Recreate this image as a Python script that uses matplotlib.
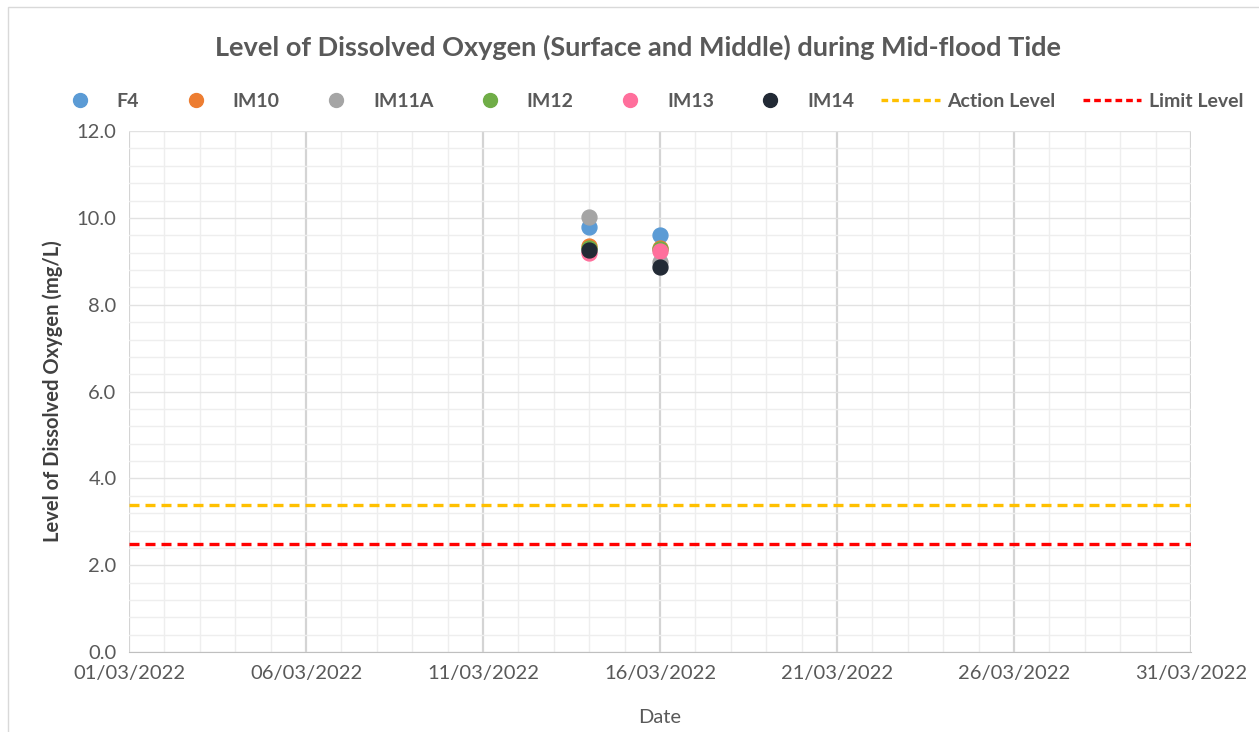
import matplotlib

matplotlib.use("Agg")
import matplotlib.dates as mdates
import matplotlib.pyplot as plt
import pandas as pd
from matplotlib.lines import Line2D
from matplotlib.patches import Rectangle

plt.rcParams["font.family"] = ["Lato", "DejaVu Sans"]

# sampling dates and dissolved oxygen readings (mg/L)
dates = pd.to_datetime(["2022-03-14", "2022-03-16"])
stations = ["F4", "IM10", "IM11A", "IM12", "IM13", "IM14"]
f4 = [9.78, 9.60]
im10 = [9.36, 9.31]
im11a = [10.01, 8.98]
im12 = [9.30, 9.28]
im13 = [9.19, 9.24]
im14 = [9.27, 8.88]
action_level = 3.4
limit_level = 2.5

colors = ["#5B9BD5", "#ED7D31", "#A5A5A5", "#70AD47", "#FF6F9C", "#222A35"]
series = [f4, im10, im11a, im12, im13, im14]

fig = plt.figure(figsize=(12.59, 7.32), dpi=100)
ax = fig.add_axes([0.1025, 0.109, 0.8435, 0.712])
fig.patches.append(Rectangle((0.006, -0.01), 1.0, 1.0, transform=fig.transFigure,
                             fill=False, edgecolor="#D9D9D9", lw=1))

x0, x1 = pd.Timestamp("2022-03-01"), pd.Timestamp("2022-03-31")
ax.set_xlim(x0, x1)
ax.set_ylim(0, 12)

ax.xaxis.set_major_locator(mdates.DayLocator(bymonthday=[1, 6, 11, 16, 21, 26, 31]))
ax.xaxis.set_minor_locator(mdates.DayLocator())
ax.xaxis.set_major_formatter(mdates.DateFormatter("%d/%m/%Y"))
ax.yaxis.set_major_locator(plt.MultipleLocator(2))
ax.yaxis.set_minor_locator(plt.MultipleLocator(0.4))
ax.yaxis.set_major_formatter(plt.FormatStrFormatter("%.1f"))

ax.grid(which="minor", color="#EEEEEE", lw=1)
ax.grid(which="major", axis="y", color="#E2E2E2", lw=1)
ax.grid(which="major", axis="x", color="#D4D4D4", lw=1.6)
ax.set_axisbelow(True)
for side in ["top", "right", "left"]:
    ax.spines[side].set_visible(False)
ax.spines["bottom"].set_color("#BFBFBF")
ax.tick_params(which="both", length=0)
ax.tick_params(axis="both", labelsize=14.5, labelcolor="#595959", pad=9)

for name, vals, c in zip(stations, series, colors):
    ax.scatter(dates, vals, s=115, color=c, zorder=3, label=name)

ax.axhline(action_level, color="#FFC000", lw=2.4, ls=(0, (3, 1.8)), zorder=2)
ax.axhline(limit_level, color="#FF0000", lw=2.4, ls=(0, (3, 1.8)), zorder=2)

ax.set_xlabel("Date", fontsize=14.5, color="#595959", labelpad=20)
ax.set_ylabel("Level of Dissolved Oxygen (mg/L)", fontsize=14.5, fontweight="bold",
              color="#404040", labelpad=10)
fig.text(0.507, 0.936, "Level of Dissolved Oxygen (Surface and Middle) during Mid-flood Tide",
         ha="center", va="center", fontsize=19.5, fontweight="bold", color="#595959")

handles = [Line2D([], [], ls="", marker="o", markersize=10, color=c) for c in colors]
handles += [Line2D([], [], color="#FFC000", lw=2.4, ls=(0, (2, 1.2))),
            Line2D([], [], color="#FF0000", lw=2.4, ls=(0, (2, 1.2)))]
labels = stations + ["Action Level", "Limit Level"]
leg = fig.legend(handles, labels, loc="center", bbox_to_anchor=(0.514, 0.862), ncol=8,
                 frameon=False, fontsize=14, handlelength=3.0, handletextpad=0.4,
                 columnspacing=1.4)
for t in leg.get_texts():
    t.set_color("#595959")
    t.set_fontweight("bold")

fig.savefig("out.png", dpi=100)
